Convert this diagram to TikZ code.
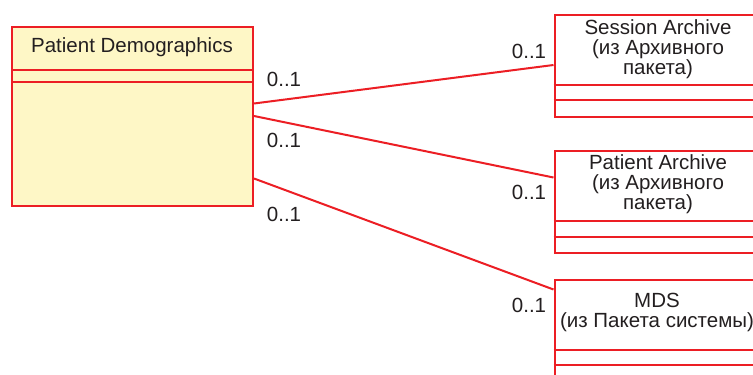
\documentclass[tikz,border=0pt]{standalone}
\usepackage{fontspec}
\setmainfont{Liberation Sans}
\usetikzlibrary{calc}
\definecolor{umlred}{RGB}{236,30,36}
\definecolor{umlfill}{RGB}{254,247,198}
\definecolor{txt}{RGB}{35,31,32}
\tikzset{
  classbox/.style={draw=umlred, line width=2pt, rectangle, inner sep=0pt, anchor=north west},
  sep/.style={draw=umlred, line width=2pt},
  assoc/.style={draw=umlred, line width=2pt},
  lbl/.style={text=txt, font=\fontsize{20.5}{20}\selectfont, inner sep=0pt, align=center},
}
\begin{document}
\begin{tikzpicture}[x=1pt,y=-1pt]
\clip (0,0) rectangle (753,375);
\fill[white] (0,0) rectangle (753,375);
% left class
\node[classbox, fill=umlfill, minimum width=241pt, minimum height=179pt] (pd) at (11,26) {};
\node[lbl] (pdname) at (132,47) {Patient Demographics};
\draw[sep] ($(pd.north west)+(0,43.5)$) -- ($(pd.north east)+(0,43.5)$);
\draw[sep] ($(pd.north west)+(0,55.5)$) -- ($(pd.north east)+(0,55.5)$);
% Session Archive
\node[classbox, minimum width=209pt, minimum height=102pt] (sa) at (553.5,14) {};
\node[lbl] (saname) at (658,49) {Session Archive\\(из Архивного\\пакета)};
\draw[sep] ($(sa.north west)+(0,71)$) -- ($(sa.north east)+(0,71)$);
\draw[sep] ($(sa.north west)+(0,86)$) -- ($(sa.north east)+(0,86)$);
% Patient Archive
\node[classbox, minimum width=209pt, minimum height=102pt] (pa) at (553.5,149.5) {};
\node[lbl] (paname) at (658,184.5) {Patient Archive\\(из Архивного\\пакета)};
\draw[sep] ($(pa.north west)+(0,71.5)$) -- ($(pa.north east)+(0,71.5)$);
\draw[sep] ($(pa.north west)+(0,87)$) -- ($(pa.north east)+(0,87)$);
% MDS
\node[classbox, minimum width=209pt, minimum height=110pt] (mds) at (553.5,279) {};
\node[lbl] (mdsname) at (657,312) {MDS\\(из Пакета системы)};
\draw[sep] ($(mds.north west)+(0,71)$) -- ($(mds.north east)+(0,71)$);
\draw[sep] ($(mds.north west)+(0,86)$) -- ($(mds.north east)+(0,86)$);
% associations
\draw[assoc] ($(pd.north east)+(0,77.5)$) -- ($(sa.north west)+(0,51)$);
\draw[assoc] ($(pd.north east)+(0,90)$) -- ($(pa.north west)+(0,28)$);
\draw[assoc] ($(pd.north east)+(0,152.5)$) -- ($(mds.north west)+(0,10.5)$);
% multiplicities
\node[lbl] (m1) at (284,79) {0..1};
\node[lbl] (m2) at (284,140) {0..1};
\node[lbl] (m3) at (284,214) {0..1};
\node[lbl] (m4) at (529,51) {0..1};
\node[lbl] (m5) at (529,192.5) {0..1};
\node[lbl] (m6) at (529,305.5) {0..1};
\end{tikzpicture}
\end{document}
